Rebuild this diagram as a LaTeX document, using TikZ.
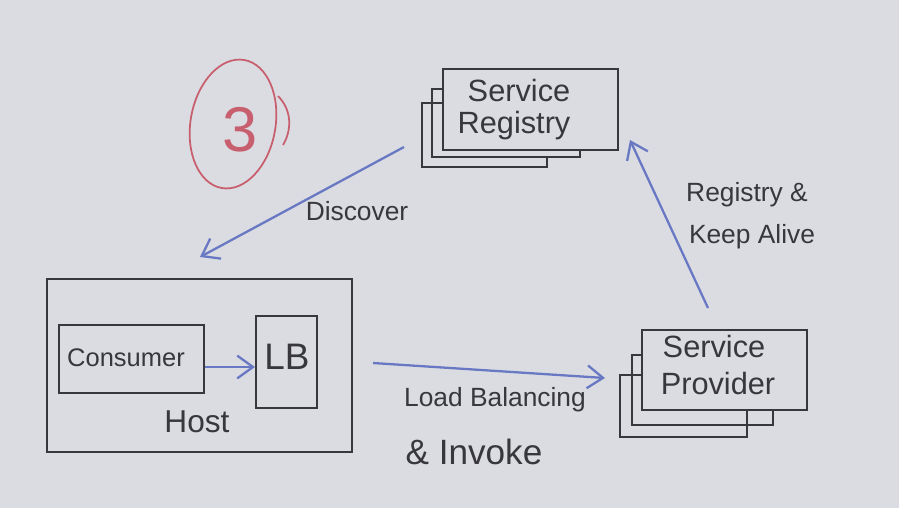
\documentclass[tikz,border=0pt]{standalone}
\usepackage{fontspec}
\setmainfont{Liberation Sans}
\usetikzlibrary{arrows.meta,fit,shapes.geometric}
\definecolor{board}{RGB}{219,220,226}
\definecolor{ink}{RGB}{55,55,60}
\definecolor{pen}{RGB}{105,120,195}
\definecolor{redpen}{RGB}{200,95,110}
\tikzset{
  box/.style={draw=ink, line width=1.2pt, inner sep=0pt},
  backbox/.style={draw=ink, line width=1.1pt},
  txt/.style={text=ink, inner sep=0pt},
  flow/.style={draw=pen, line width=1.3pt, -{Straight Barb[length=9pt,width=13pt,line width=1.3pt]}},
}
\begin{document}
\begin{tikzpicture}[x=0.02cm,y=-0.02cm]
\fill[board] (0,0) rectangle (899,508);
\useasboundingbox (0,0) rectangle (899,508);

% Service Registry stack
\draw[backbox] (443,103) -- (422,103) -- (422,167) -- (547,167) -- (547,158);
\draw[backbox] (443,89) -- (432,89) -- (432,157) -- (580,157) -- (580,150);
\node[box, fit={(443,69)(618,150)}] (reg) {};
\node[txt, font=\fontsize{17.5}{20}\selectfont] (regA) at (519,91) {Service};
\node[txt, font=\fontsize{17.5}{20}\selectfont] (regB) at (514,126) {Registry};

% Service Provider stack
\draw[backbox] (642,375) -- (620,375) -- (620,437) -- (747,437) -- (747,410);
\draw[backbox] (642,355) -- (632,355) -- (632,425) -- (773,425) -- (773,410);
\node[box, fit={(642,330)(807,410)}] (prov) {};
\node[txt, font=\fontsize{17.5}{20}\selectfont] (provA) at (714,346) {Service};
\node[txt, font=\fontsize{17.5}{20}\selectfont] (provB) at (718,384) {Provider};

% Host
\node[box, fit={(47,279)(352,452)}] (host) {};
\node[box, fit={(59,325)(204,393)}] (cons) {};
\node[box, fit={(256,316)(317,408)}] (lb) {};
\node[txt, font=\fontsize{14.5}{17}\selectfont] (consT) at (126,358) {Consumer};
\node[txt, font=\fontsize{21}{23}\selectfont] (lbT) at (287,357) {LB};
\node[txt, font=\fontsize{18}{20}\selectfont] (hostT) at (197,422) {Host};
\draw[flow] (cons.east |- 0,367) -- (lb.west |- 0,367);

% Arrows
\coordinate (dS) at (404,147);
\coordinate (dE) at (200,257);
\draw[flow] (dS) -- (dE);
\node[txt, font=\fontsize{15}{17}\selectfont] (disc) at (357,211) {Discover};

\coordinate (lS) at (373,363);
\coordinate (lE) at (605,378);
\draw[flow] (lS) -- (lE);
\node[txt, font=\fontsize{15}{17}\selectfont] (lbl1) at (495,400) {Load Balancing};
\node[txt, font=\fontsize{20}{22}\selectfont] (lbl2) at (474,452) {\& Invoke};

\coordinate (rS) at (708,308);
\coordinate (rE) at (630,140);
\draw[flow] (rS) -- (rE);
\node[txt, font=\fontsize{15}{17}\selectfont] (rk1) at (747,195) {Registry \&};
\node[txt, font=\fontsize{15}{17}\selectfont] (rk2) at (752,237) {Keep Alive};

% Red circled 3
\node[draw=redpen, line width=1pt, ellipse, inner sep=0pt,
      minimum width=1.7cm, minimum height=2.6cm, rotate=-10] (circ) at (233,124) {};
\node[text=redpen, font=\fontsize{36}{40}\selectfont] (three) at (240,130) {3};
\draw[redpen, line width=1pt] (278,96) .. controls (292,110) and (292,130) .. (283,145);
\end{tikzpicture}
\end{document}
